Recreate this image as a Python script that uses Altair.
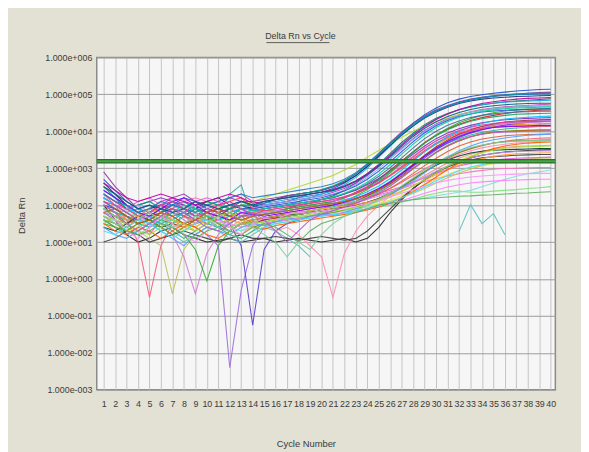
import altair as alt
import pandas as pd

cycles = list(range(1, 41))
x_ticks = list(range(1, 41))
y_ticks = [1e-3, 1e-2, 1e-1, 1e0, 1e1, 1e2, 1e3, 1e4, 1e5, 1e6]
threshold = [1550]

# log10(Delta Rn) per cycle, None = not plottable (negative Delta Rn)
s01 = [2.7,2.4,2.1,1.9,2.0,1.8,1.9,2.1,1.9,1.8, 1.7,1.9,2.0, 1.9,2.0,2.05,2.1,2.2,2.3,2.35, 2.45,2.6,2.8,3.05,3.35,3.65,3.95,4.22,4.45,4.63, 4.77,4.87,4.94,4.99,5.03,5.06,5.09,5.11,5.13,5.14]
s02 = [2.4,2.2,2.0,1.7,1.6,1.8,2.0,2.1,1.9,1.7, 1.5,1.6,1.8, 1.8,1.9,1.95,2.0,2.1,2.2,2.3, 2.4,2.55,2.75,3.0,3.3,3.6,3.9,4.15,4.37,4.55, 4.68,4.78,4.86,4.92,4.96,4.99,5.01,5.03,5.04,5.05]
s03 = [2.2,2.0,1.8,1.6,1.5,1.7,1.9,1.8,1.6,1.5, 1.4,1.6,1.7, 1.7,1.75,1.8,1.9,2.0,2.05,2.15, 2.25,2.4,2.6,2.85,3.1,3.4,3.7,3.95,4.18,4.35, 4.48,4.58,4.66,4.72,4.76,4.8,4.82,4.84,4.86,4.88]
s04 = [2.5,2.3,2.0,1.8,1.9,2.1,2.2,2.0,1.8,1.9, 2.0,2.2,2.3, 2.1,2.0,2.05,2.1,2.15,2.2,2.25, 2.35,2.45,2.6,2.8,3.05,3.3,3.55,3.8,4.02,4.2, 4.34,4.45,4.53,4.59,4.63,4.66,4.68,4.7,4.72,4.73]
s05 = [2.0,1.8,1.6,1.5,1.7,1.8,1.6,1.5,1.7,1.9, 1.8,1.7,1.6, 1.7,1.75,1.8,1.85,1.9,1.95,2.0, 2.1,2.2,2.35,2.5,2.7,2.95,3.2,3.45,3.7,3.9, 4.06,4.19,4.29,4.37,4.43,4.48,4.52,4.55,4.57,4.58]
s06 = [2.3,2.1,1.9,2.0,2.1,2.2,2.1,2.0,1.9,2.0, 2.1,2.2,2.1, 2.0,1.9,1.95,2.0,2.05,2.1,2.15, 2.2,2.3,2.4,2.55,2.72,2.92,3.15,3.38,3.6,3.8, 3.95,4.07,4.16,4.23,4.28,4.31,4.33,4.35,4.36,4.37]
s07 = [1.9,1.7,1.5,1.3,1.5,1.7,1.6,1.4,1.3,1.5, 1.6,1.7,1.8, 1.8,1.85,1.85,1.9,1.95,2.0,2.05, 2.1,2.2,2.3,2.45,2.6,2.8,3.0,3.22,3.45,3.65, 3.8,3.92,4.01,4.08,4.13,4.16,4.18,4.19,4.2,4.21]
s08 = [2.1,1.9,1.7,1.5,1.2,1.6,1.9,2.1,2.2,2.1, 1.9,1.7,1.6, 1.7,1.75,1.8,1.85,1.9,1.95,2.0, 2.05,2.1,2.15,2.2,2.28,2.36,2.45,2.55,2.64,2.72, 2.79,2.85,2.9,2.94,2.97,2.99,3.0,3.01,3.02,3.02]
s09 = [1.8,1.6,1.4,1.2,1.4,1.6,1.5,1.3,1.5,1.7, 1.6,1.4,1.3, 1.4,1.45,1.5,1.55,1.6,1.65,1.7, 1.75,1.8,1.85,1.9,1.95,2.0,2.08,2.16,2.25,2.32, 2.38,2.38,2.35,2.35,2.38,2.4,2.42,2.45,2.47,2.5]
s10 = [1.5,1.7,1.9,1.8,1.6,1.5,1.7,1.9,2.0,2.1, 2.0,1.9,2.0, 2.1,2.2,2.3,2.4,2.5,2.6,2.7, 2.8,2.95,3.1,3.3,3.48,3.66,3.84,4.0,4.14,4.26, 4.36,4.45,4.52,4.57,4.61,4.64,4.66,4.68,4.7,4.71]
s11 = [2.0,1.6,1.2,1.0,1.1,1.3,1.4,1.2,1.1,1.0, 1.05,1.1,1.0, 1.05,1.1,1.0,1.05,1.1,1.05,1.0, 1.05,1.1,1.0,1.1,1.4,1.8,2.15,2.45,2.7,2.9, 3.05,3.18,3.28,3.35,3.4,3.44,3.46,3.48,3.49,3.5]
s12 = [1.6,1.4,1.2,1.4,1.6,1.5,1.3,1.1,1.3,1.5, 1.7,2.3,2.55, 1.6,1.65,1.7,1.75,1.8,1.85,1.9, 1.95,2.05,2.15,2.3,2.45,2.65,2.88,3.1,3.32,3.52, 3.68,3.8,3.9,3.97,4.02,4.06,4.09,4.11,4.13,4.14]
s13 = [2.2,2.0,1.9,1.8,1.6,1.4,1.6,1.8,1.7,1.5, 1.4,1.5,1.7, 1.9,2.0,2.05,2.1,2.15,2.2,2.25, 2.3,2.4,2.55,2.75,2.98,3.25,3.52,3.78,4.0,4.18, 4.32,4.43,4.51,4.57,4.61,4.64,4.66,4.67,4.68,4.68]
s14 = [1.8,1.6,1.5,1.7,1.9,2.0,1.8,1.6,1.4,1.2, 0.9,-2.4,-0.3, 0.9,1.4,1.6,1.7,1.75,1.8,1.85, 1.9,2.0,2.1,2.25,2.42,2.62,2.85,3.1,3.33,3.55, 3.73,3.88,4.0,4.09,4.16,4.21,4.25,4.28,4.3,4.31]
s15 = [2.0,1.8,1.7,1.5,1.6,1.8,1.9,1.7,1.5,1.6, 1.8,1.5,0.9, -1.25,0.8,1.3,1.5,1.6,1.7,1.8, 1.85,1.95,2.05,2.2,2.38,2.58,2.8,3.05,3.28,3.5, 3.68,3.83,3.95,4.04,4.11,4.17,4.21,4.24,4.26,4.28]
s16 = [2.3,2.0,1.6,1.0,-0.5,0.9,1.5,1.7,1.6,1.5, 1.6,1.8,1.9, 1.7,1.6,1.7,1.8,1.85,1.9,1.95, 2.0,2.05,2.1,2.2,2.3,2.45,2.62,2.8,2.98,3.15, 3.3,3.43,3.53,3.61,3.68,3.73,3.77,3.79,3.81,3.82]
s17 = [1.7,1.6,1.4,1.3,1.1,0.9,-0.4,0.8,1.2,1.4, 1.5,1.6,1.5, 1.4,1.5,1.55,1.6,1.65,1.7,1.75, 1.8,1.85,1.9,1.95,2.02,2.1,2.2,2.32,2.45,2.6, 2.74,2.87,2.98,3.07,3.14,3.19,3.23,3.25,3.27,3.28]
s18 = [2.0,1.9,1.7,1.6,1.5,1.4,1.2,0.6,-0.4,0.7, 1.2,1.5,1.7, 1.7,1.75,1.8,1.85,1.9,1.95,2.0, 2.1,2.2,2.32,2.48,2.66,2.88,3.1,3.33,3.55,3.74, 3.88,3.99,4.07,4.13,4.17,4.2,4.22,4.24,4.25,4.26]
s19 = [1.5,1.4,1.3,1.5,1.7,1.6,1.4,1.2,0.8,-0.05, 0.9,1.3,1.5, 1.55,1.6,1.7,1.75,1.8,1.85,1.9, 2.0,2.1,2.25,2.42,2.62,2.88,3.15,3.42,3.68,3.9, 4.08,4.23,4.34,4.43,4.5,4.55,4.58,4.6,4.61,4.62]
s20 = [1.9,1.8,1.6,1.5,1.7,1.9,2.0,1.8,1.7,1.6, 1.5,1.4,1.6, 1.7,1.5,1.3,1.4,1.2,0.9,0.6, -0.5,0.7,1.3,1.7,2.0,2.25,2.5,2.72,2.92,3.1, 3.25,3.37,3.47,3.55,3.61,3.65,3.68,3.71,3.73,3.74]
s21 = [1.6,1.4,1.2,1.3,1.5,1.4,1.2,1.0,1.2,1.4, 1.3,1.1,1.0,1.2,1.4,1.3,1.1,0.9,0.6,None, None,None,None,None,None,None,None,None,None,None, None,1.29,2.01,1.5,1.77,1.2,None,None,None,None]
s22 = [2.6,2.3,2.0,1.8,1.9,2.0,1.8,1.7,1.9,2.1, 2.2,2.0,1.9, 1.95,2.05,2.15,2.25,2.3,2.35,2.4, 2.5,2.62,2.8,3.05,3.33,3.62,3.9,4.15,4.36,4.52, 4.65,4.75,4.82,4.87,4.9,4.92,4.94,4.95,4.96,4.97]
s23 = [2.1,1.9,1.8,1.6,1.4,1.6,1.8,1.7,1.5,1.7, 1.9,2.0,1.8, 1.55,1.6,1.65,1.7,1.75,1.8,1.85, 1.9,1.95,2.0,2.08,2.18,2.3,2.45,2.62,2.8,2.98, 3.14,3.27,3.38,3.46,3.52,3.56,3.59,3.6,3.61,3.62]
s24 = [1.8,1.7,1.6,1.7,1.8,1.6,1.5,1.7,1.9,1.8, 1.6,1.5,1.7, 1.75,1.8,1.85,1.9,1.95,2.0,2.05, 2.1,2.2,2.32,2.48,2.68,2.92,3.18,3.44,3.68,3.88, 4.04,4.17,4.27,4.34,4.39,4.43,4.46,4.47,4.48,4.49]
s25 = [2.4,2.2,1.9,1.7,1.8,2.0,2.1,1.9,1.7,1.8, 1.9,2.0,2.1, 2.0,2.05,2.1,2.15,2.2,2.25,2.3, 2.38,2.5,2.65,2.85,3.1,3.38,3.66,3.93,4.15,4.33, 4.47,4.58,4.66,4.72,4.76,4.79,4.81,4.82,4.83,4.84]
s26 = [1.9,1.7,1.5,1.6,1.8,1.9,1.7,1.5,1.4,1.6, 1.8,1.9,1.7, 1.5,1.6,1.65,1.7,1.75,1.8,1.85, 1.9,1.98,2.06,2.16,2.3,2.46,2.65,2.86,3.07,3.27, 3.45,3.6,3.71,3.79,3.84,3.88,3.9,3.91,3.92,3.93]
s27 = [2.2,2.0,1.9,2.1,2.2,2.0,1.8,1.9,2.1,2.2, 2.1,1.9,1.8, 1.85,1.9,1.95,2.0,2.0,2.05,2.1, 2.12,2.15,2.2,2.25,2.32,2.4,2.5,2.62,2.74,2.86, 2.97,3.06,3.13,3.18,3.22,3.25,3.27,3.28,3.29,3.3]
s28 = [1.4,1.3,1.5,1.7,1.6,1.4,1.5,1.7,1.8,1.6, 1.4,1.3,1.5, 1.6,1.65,1.7,1.75,1.75,1.8,1.85, 1.9,1.95,2.0,2.08,2.18,2.32,2.5,2.7,2.9,3.08, 3.22,3.33,3.41,3.46,3.49,3.5,3.51,3.52,3.53,3.53]
s29 = [1.6,1.5,1.3,1.4,1.6,1.7,1.5,1.3,1.4,1.6, 1.7,1.5,1.4, 1.5,1.55,1.6,1.65,1.7,1.72,1.75, 1.8,1.85,1.9,1.96,2.04,2.14,2.26,2.4,2.55,2.7, 2.83,2.94,3.02,3.08,3.12,3.15,3.17,3.18,3.19,3.19]
s30 = [2.0,1.9,1.7,1.6,1.7,1.9,2.0,2.2,2.1,1.9, 1.8,1.7,1.9, 1.9,1.95,2.0,2.05,2.1,2.15,2.2, 2.28,2.38,2.52,2.7,2.92,3.18,3.45,3.72,3.96,4.15, 4.29,4.4,4.47,4.52,4.55,4.57,4.58,4.59,4.6,4.61]
s31 = [1.7,1.5,1.4,1.6,1.8,1.7,1.5,1.4,1.6,1.8, 1.9,1.8,1.6, 1.5,1.6,1.65,1.7,1.75,1.8,1.85, 1.9,2.0,2.1,2.25,2.42,2.62,2.85,3.1,3.35,3.58, 3.76,3.92,4.04,4.13,4.2,4.25,4.28,4.3,4.31,4.32]
s32 = [1.5,1.6,1.8,1.7,1.5,1.3,1.5,1.7,1.8,1.6, 1.5,1.4,1.3, 1.5,1.55,1.6,1.65,1.7,1.72,1.75, 1.8,1.85,1.9,1.95,2.0,2.05,2.1,2.15,2.2,2.25, 2.3,2.35,2.4,2.5,2.6,2.7,2.78,2.85,2.9,2.95]
s33 = [2.9,2.5,2.2,1.9,1.8,2.0,2.2,2.3,2.1,1.9, 1.8,1.9,2.1, 2.1,2.15,2.2,2.25,2.3,2.35,2.4, 2.5,2.65,2.85,3.1,3.4,3.7,3.98,4.22,4.42,4.58, 4.7,4.8,4.87,4.92,4.96,4.99,5.01,5.03,5.05,5.06]
s34 = [1.9,1.7,1.6,1.8,1.9,1.7,1.6,1.8,1.9,1.7, 1.5,1.4,1.5, 1.5,1.55,1.6,1.7,1.75,1.8,1.85, 1.9,2.0,2.1,2.22,2.36,2.54,2.75,2.98,3.2,3.42, 3.6,3.74,3.85,3.93,3.98,4.0,4.02,4.03,4.04,4.04]
s35 = [1.0,1.1,1.3,1.2,1.0,1.1,1.2,1.3,1.2,1.1, 1.0,1.1,1.2, 1.1,1.1,1.15,1.1,1.05,1.1,1.15, 1.1,1.05,1.1,1.3,1.6,1.9,2.2,2.45,2.68,2.88, 3.03,3.14,3.22,3.28,3.31,3.33,3.35,3.36,3.37,3.37]
s36 = [2.3,2.1,1.9,1.7,1.8,2.0,1.9,1.7,1.6,1.8, 2.0,2.1,2.2, 1.9,1.85,1.9,1.95,2.0,2.05,2.1, 2.15,2.22,2.32,2.45,2.6,2.8,3.02,3.25,3.48,3.68, 3.83,3.95,4.03,4.08,4.11,4.12,4.13,4.13,4.14,4.14]
s37 = [2.1,1.9,1.7,1.5,1.6,1.8,2.0,1.9,1.7,1.6, 1.7,1.9,2.0, 1.85,1.9,1.95,2.0,2.05,2.1,2.15, 2.2,2.3,2.42,2.58,2.78,3.02,3.28,3.55,3.8,4.0, 4.16,4.28,4.37,4.43,4.47,4.5,4.52,4.53,4.54,4.54]
s38 = [2.5,2.2,1.9,2.0,2.1,1.9,1.7,1.8,2.0,2.1, 2.0,1.9,2.0, 2.0,2.1,2.15,2.2,2.3,2.35,2.42, 2.52,2.66,2.85,3.1,3.38,3.66,3.93,4.17,4.38,4.54, 4.67,4.77,4.85,4.91,4.95,4.98,5.0,5.01,5.02,5.02]
s39 = [1.8,1.7,1.9,2.0,1.8,1.6,1.7,1.9,2.0,1.9, 1.7,1.6,1.8, 1.75,1.8,1.85,1.85,1.9,1.92,1.95, 2.0,2.05,2.1,2.16,2.24,2.34,2.46,2.6,2.76,2.92, 3.06,3.18,3.28,3.35,3.4,3.43,3.45,3.46,3.47,3.47]
s40 = [1.6,1.4,1.3,1.5,1.6,1.4,1.2,1.4,1.6,1.7, 1.5,1.3,1.2, 1.4,1.5,1.55,1.6,1.65,1.7,1.75, 1.8,1.87,1.95,2.05,2.17,2.32,2.5,2.7,2.9,3.1, 3.27,3.42,3.53,3.62,3.68,3.72,3.74,3.75,3.76,3.77]
s41 = [1.7,1.5,1.4,1.6,1.7,1.5,1.4,1.5,1.7,1.8, 1.6,1.5,1.4, 1.45,1.5,1.55,1.6,1.65,1.68,1.72, 1.76,1.8,1.85,1.9,1.96,2.04,2.12,2.22,2.32,2.41, 2.49,2.55,2.6,2.63,2.65,2.67,2.68,2.69,2.7,2.7]
s42 = [2.2,2.0,1.8,1.9,1.7,1.5,1.6,1.8,1.9,1.7, 1.6,1.8,1.9, 1.7,1.75,1.8,1.85,1.9,1.95,2.0, 2.05,2.13,2.23,2.36,2.52,2.72,2.95,3.2,3.45,3.67, 3.85,4.0,4.12,4.21,4.28,4.33,4.36,4.38,4.4,4.41]
s43 = [2.6,2.4,2.2,2.1,2.2,2.3,2.2,2.1,2.0,2.1, 2.2,2.3,2.2, 2.05,2.1,2.15,2.2,2.25,2.3,2.35, 2.42,2.52,2.66,2.85,3.08,3.35,3.63,3.9,4.13,4.32, 4.47,4.59,4.68,4.75,4.8,4.84,4.87,4.89,4.9,4.91]
s44 = [1.4,1.2,1.1,1.3,1.5,1.3,1.1,0.9,1.2,1.4, 1.3,1.2,1.4, 1.5,1.45,1.55,1.65,1.6,1.7,1.75, 1.72,1.8,1.9,2.0,2.13,2.28,2.46,2.66,2.88,3.1, 3.3,3.47,3.6,3.7,3.77,3.82,3.86,3.89,3.91,3.92]
s45 = [2.0,1.8,1.6,1.7,1.9,1.8,1.6,1.4,1.5,1.7, 1.8,1.6,1.5, 1.6,1.65,1.7,1.75,1.8,1.85,1.9, 1.93,1.97,2.02,2.08,2.16,2.26,2.38,2.52,2.67,2.82, 2.96,3.08,3.18,3.26,3.32,3.36,3.39,3.4,3.41,3.42]
s46 = [1.9,1.8,1.7,1.5,1.4,1.6,1.8,2.0,1.9,1.7, 1.6,1.7,1.9, 1.85,1.9,1.95,2.0,2.05,2.1,2.15, 2.22,2.32,2.45,2.62,2.84,3.1,3.38,3.65,3.9,4.1, 4.26,4.38,4.47,4.54,4.58,4.61,4.63,4.64,4.65,4.66]
s47 = [2.4,2.2,2.0,1.8,1.7,1.9,2.1,2.2,2.0,1.8, 1.7,1.6,1.8, 1.75,1.7,1.75,1.8,1.85,1.9,1.95, 2.0,2.08,2.18,2.3,2.45,2.63,2.85,3.08,3.32,3.54, 3.72,3.86,3.97,4.05,4.1,4.13,4.14,4.15,4.16,4.16]
s48 = [1.5,1.3,1.2,1.4,1.3,1.1,1.3,1.5,1.4,1.2, 1.1,1.3,1.5, 1.4,1.35,1.45,1.5,1.55,1.6,1.65, 1.7,1.75,1.8,1.87,1.95,2.06,2.2,2.37,2.56,2.76, 2.96,3.14,3.3,3.43,3.53,3.6,3.65,3.68,3.7,3.71]
s49 = [2.3,2.1,2.0,1.8,1.9,2.1,2.0,1.9,1.8,2.0, 2.1,2.2,2.3, 2.2,2.25,2.3,2.35,2.4,2.45,2.5, 2.58,2.7,2.88,3.12,3.4,3.68,3.95,4.2,4.4,4.56, 4.68,4.78,4.85,4.9,4.94,4.97,4.99,5.0,5.01,5.01]
s50 = [1.7,1.6,1.5,1.3,1.2,1.4,1.6,1.5,1.3,1.5, 1.7,1.8,1.6, 1.5,1.55,1.6,1.65,1.7,1.75,1.8, 1.84,1.88,1.94,2.0,2.1,2.22,2.36,2.52,2.7,2.88, 3.05,3.2,3.32,3.42,3.49,3.54,3.57,3.58,3.59,3.6]
s51 = [2.1,2.0,1.8,1.6,1.8,2.0,2.1,1.9,1.7,1.8, 2.0,2.1,1.9, 1.75,1.85,1.9,1.95,2.0,2.05,2.1, 2.15,2.23,2.33,2.46,2.62,2.82,3.05,3.3,3.54,3.74, 3.9,4.02,4.11,4.17,4.21,4.24,4.25,4.26,4.27,4.27]
s52 = [2.5,2.3,2.1,1.9,2.0,1.9,1.8,1.9,2.1,2.0, 1.9,2.0,2.1, 2.0,2.1,2.15,2.2,2.25,2.3,2.35, 2.4,2.5,2.64,2.82,3.05,3.32,3.6,3.86,4.08,4.26, 4.4,4.51,4.59,4.65,4.69,4.72,4.74,4.75,4.76,4.76]
s53 = [1.9,1.6,1.3,1.1,1.4,1.7,1.5,1.2,1.0,1.3, 1.6,1.4,1.2, 1.5,1.65,1.6,1.75,1.8,1.78,1.85, 1.88,1.92,1.98,2.05,2.13,2.22,2.32,2.42,2.52,2.6, 2.67,2.72,2.76,2.79,2.81,2.83,2.84,2.85,2.86,2.86]
s54 = [1.3,1.2,1.4,1.6,1.5,1.3,1.1,1.3,1.5,1.6, 1.4,1.2,1.1, 1.3,1.4,1.5,1.55,1.6,1.65,1.7, 1.74,1.78,1.83,1.9,1.98,2.08,2.2,2.34,2.5,2.66, 2.8,2.93,3.03,3.1,3.15,3.18,3.2,3.21,3.22,3.23]
s55 = [1.8,1.9,1.7,1.5,1.6,1.8,1.7,1.5,1.6,1.8, 1.9,1.7,1.6, 1.7,1.75,1.8,1.85,1.9,1.95,2.0, 2.04,2.1,2.18,2.28,2.42,2.58,2.78,3.0,3.22,3.43, 3.6,3.74,3.85,3.93,3.98,4.0,4.01,4.02,4.03,4.03]
s56 = [1.6,1.5,1.3,1.2,1.3,1.5,1.4,1.2,1.1,1.3, 1.4,1.2,1.1, 1.3,1.5,1.4,1.2,1.0,1.3,1.5, 1.6,1.7,1.8,1.9,2.0,2.05,2.1,2.15,2.18,2.2, 2.22,2.24,2.25,2.27,2.28,2.3,2.32,2.33,2.35,2.36]
s57 = [1.7,1.5,1.4,1.6,1.8,1.6,1.4,1.5,1.7,1.6, 1.4,1.3,1.5, 1.4,1.2,1.0,0.6,1.0,0.8,1.2, 1.5,1.7,1.85,2.0,2.15,2.32,2.52,2.74,2.95,3.15, 3.32,3.46,3.56,3.63,3.68,3.71,3.73,3.74,3.75,3.76]
s58 = [2.0,1.8,1.5,1.3,1.5,1.7,1.9,1.8,1.6,1.4, 1.3,1.5,1.7, 1.8,1.6,1.3,1.0,1.3,1.6,1.75, 1.85,1.95,2.05,2.18,2.33,2.52,2.74,2.98,3.22,3.44, 3.62,3.76,3.86,3.92,3.96,3.98,3.99,4.0,4.0,4.01]

series = [s01, s02, s03, s04, s05, s06, s07, s08, s09, s10, s11, s12, s13, s14,
          s15, s16, s17, s18, s19, s20, s21, s22, s23, s24, s25, s26, s27, s28,
          s29, s30, s31, s32, s33, s34, s35, s36, s37, s38, s39, s40, s41, s42,
          s43, s44, s45, s46, s47, s48, s49, s50, s51, s52, s53, s54, s55, s56,
          s57, s58]

colors = ["#1f4fd0", "#10b0d0", "#107040", "#d030d0", "#d02020", "#8030c0", "#e08a20",
          "#ff70c0", "#80e080", "#b0d830", "#202020", "#30b0a0", "#70b0f0", "#a070e0",
          "#6040d0", "#f06080", "#c0c060", "#d080d0", "#30b030", "#ff8fb0", "#60c0c0",
          "#203080", "#f09080", "#20a060", "#20a0e0", "#e06030", "#e060e0", "#004020",
          "#e8e040", "#3050e0", "#a03030", "#80e0e0", "#9040a0", "#60d060", "#404040",
          "#ff4060", "#4070a0", "#00a080", "#c090f0", "#809020", "#ff80ff", "#00c0ff",
          "#c000a0", "#50a0ff", "#ffa040", "#00d0a0", "#8000ff", "#ff6000", "#2080c0",
          "#a0e040", "#e040a0", "#006080", "#ff90ff", "#40e0ff", "#c06000", "#60b060",
          "#80d0a0", "#b060d0"]

rows = []
sids = []
for i, vals in enumerate(series):
    sid = f"s{i + 1:02d}"
    sids.append(sid)
    seg = 0
    for c, v in zip(cycles, vals):
        if v is None:
            seg += 1
            continue
        rows.append({"cycle": c, "rn": 10 ** v, "sid": sid, "seg": f"{sid}_{seg}"})
df = pd.DataFrame(rows)

FONT = "Liberation Sans"
W, H = 465, 337

x_scale = alt.Scale(domain=[0.4, 40.4], nice=False, zero=False)
y_scale = alt.Scale(type="log", domain=[1e-3, 1e6], nice=False)

y_label_expr = ("'1.000e' + (datum.value >= 1 ? '+' : '-') + '00' + "
                "abs(round(log(datum.value) / LN10))")

lines = alt.Chart(df).mark_line(strokeWidth=1.1, opacity=0.92, clip=True).encode(
    x=alt.X("cycle:Q", scale=x_scale,
            axis=alt.Axis(values=x_ticks, title="Cycle Number", grid=True,
                          gridColor="#c4c4c4", gridWidth=1, ticks=False, domain=False,
                          labelFont=FONT, labelFontSize=9, labelColor="#3a3a3a",
                          labelPadding=10, labelOverlap=False, labelFlush=False,
                          titleFont=FONT, titleFontSize=9.5, titleFontWeight="normal",
                          titleColor="#3a3a3a", titleX=212, titleY=50)),
    y=alt.Y("rn:Q", scale=y_scale,
            axis=alt.Axis(values=y_ticks, labelExpr=y_label_expr, title="Delta Rn",
                          grid=True, gridColor="#9c9c9c", gridWidth=1, ticks=False,
                          domain=False, labelFont=FONT, labelFontSize=9,
                          labelColor="#3a3a3a", labelPadding=5, labelOverlap=False,
                          labelFlush=False, titleFont=FONT, titleFontSize=9.5,
                          titleFontWeight="normal", titleColor="#3a3a3a",
                          titleX=-71, titleY=160)),
    color=alt.Color("sid:N", scale=alt.Scale(domain=sids, range=colors), legend=None),
    detail="seg:N",
    order="cycle:Q",
)

thr_df = pd.DataFrame({"t": threshold})
thr_dark = alt.Chart(thr_df).mark_rule(color="#2d6e2d", strokeWidth=4.5).encode(y=alt.Y("t:Q", scale=y_scale))
thr_light = alt.Chart(thr_df).mark_rule(color="#45a845", strokeWidth=2).encode(y=alt.Y("t:Q", scale=y_scale))

underline = alt.Chart(thr_df).mark_rule(color="#3a3a3a", strokeWidth=0.8).encode(
    x=alt.value(172), x2=alt.value(236), y=alt.value(-15))

chart = alt.layer(lines, thr_dark, thr_light, underline).properties(
    width=W, height=H,
    title=alt.TitleParams("Delta Rn vs Cycle", font=FONT, fontSize=9, fontWeight="normal",
                          color="#3a3a3a", anchor="middle", dx=-26, offset=1),
    background="#e3e0d4",
    padding={"left": 90, "top": 47, "right": 26, "bottom": 60},
    autosize=alt.AutoSizeParams(type="none"),
).configure_view(
    fill="#f6f6f6", stroke="#8a8a8a", strokeWidth=1.5,
)

chart.save("out.html", embed_options={"renderer": "svg", "actions": False})
